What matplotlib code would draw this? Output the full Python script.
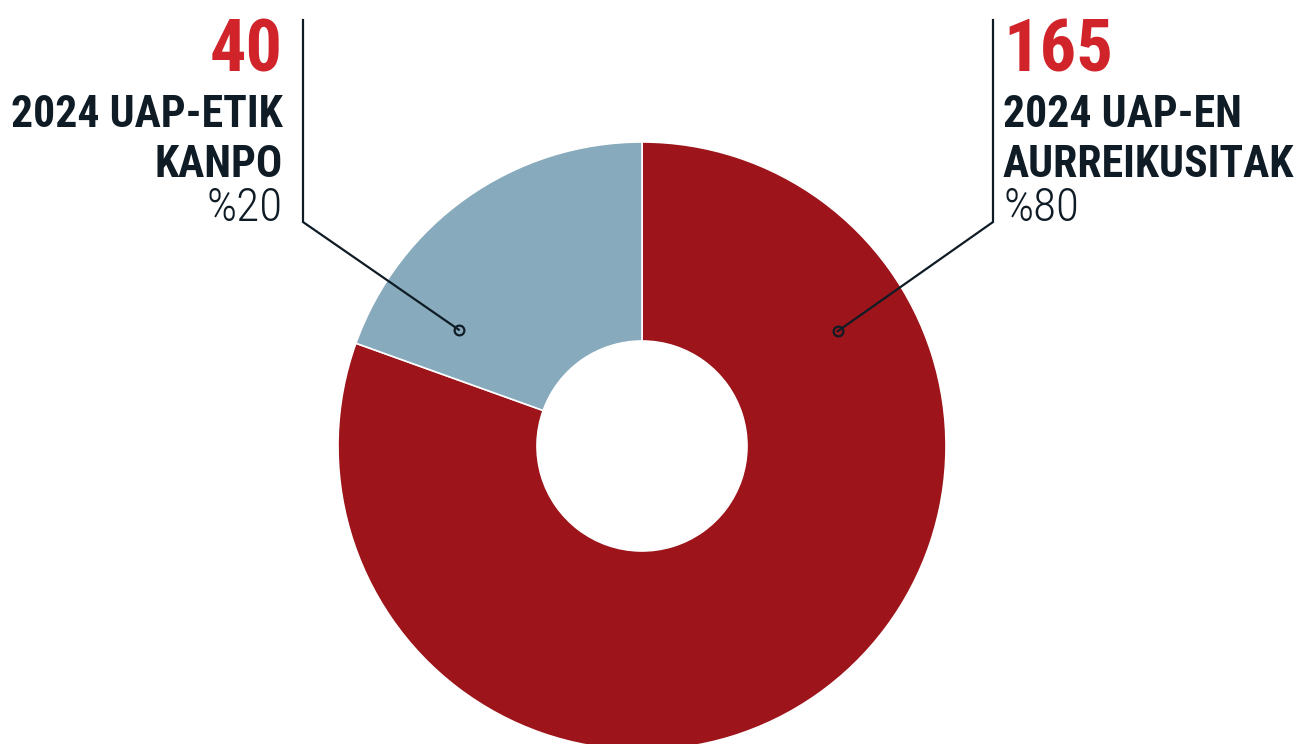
import numpy as np
import matplotlib
matplotlib.use("Agg")
import matplotlib.pyplot as plt

# data
counts = [165, 40]
shares = ["%80", "%20"]
labels = ["2024 UAP-EN\nAURREIKUSITAK", "2024 UAP-ETIK\nKANPO"]
colors = ["#9D141A", "#87AABC"]

RED_TXT = "#D0232A"
NAVY = "#0F1C26"
FONT = ["Roboto Condensed", "Roboto"]

W, H = 1300, 744
fig = plt.figure(figsize=(W / 100, H / 100), dpi=100)
ax = fig.add_axes([0, 0, 1, 1])

# pie centre and radii in pixel units (y measured upward)
cx, cy = 642, H - 446
R, r_in = 304, 105

ax.pie(counts, colors=colors, startangle=90, counterclock=False,
       radius=R, center=(cx, cy), frame=True,
       wedgeprops=dict(width=R - r_in, edgecolor="white", linewidth=1.2))
ax.set_xlim(0, W)
ax.set_ylim(0, H)
ax.set_aspect("equal")
ax.axis("off")


def callout(idx, x_line, text_x, ha, ang, rad):
    # leader: vertical line then diagonal to a small ring inside the wedge
    px = cx + rad * np.cos(np.radians(ang))
    py = cy + rad * np.sin(np.radians(ang))
    ax.plot([x_line, x_line, px], [H - 20, H - 222, py], color=NAVY, lw=1.6,
            solid_joinstyle="miter", zorder=5)
    ax.plot(px, py, "o", ms=7, mfc="none", mec=NAVY, mew=1.6, zorder=6)

    ax.text(text_x, H - 71, str(counts[idx]), ha=ha, va="baseline",
            fontsize=52, fontweight="bold", color=RED_TXT, family=FONT)
    first, second = labels[idx].split("\n")
    ax.text(text_x, H - 127, first, ha=ha, va="baseline",
            fontsize=31.5, fontweight="bold", color=NAVY, family=FONT)
    ax.text(text_x, H - 177, second, ha=ha, va="baseline",
            fontsize=31.5, fontweight="bold", color=NAVY, family=FONT)
    ax.text(text_x, H - 221, shares[idx], ha=ha, va="baseline",
            fontsize=34, fontweight="light", color=NAVY, family=FONT)


callout(0, 993, 1003, "left", 30.4, 227)
callout(1, 303, 283, "right", 147.6, 217)

fig.savefig("out.png", dpi=100)
